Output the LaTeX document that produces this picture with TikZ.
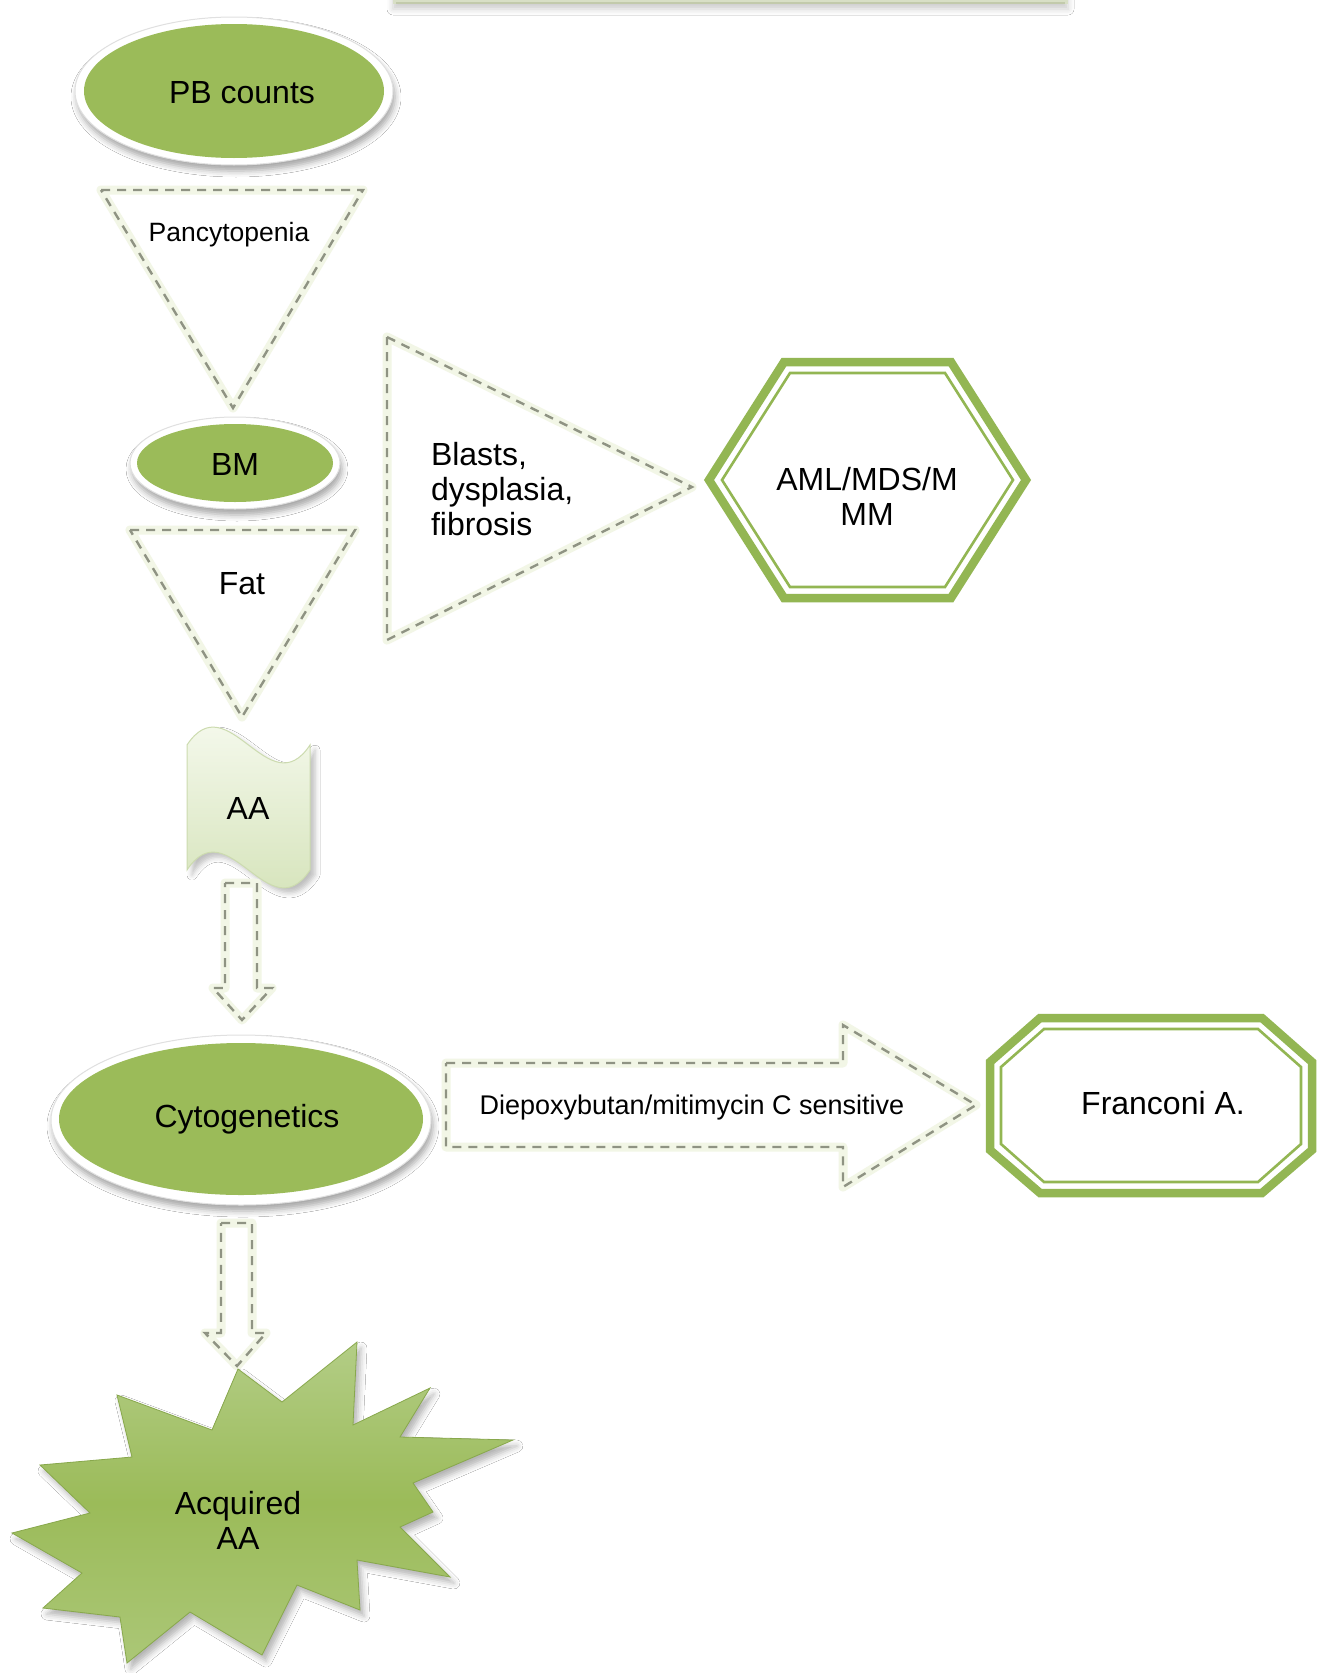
\documentclass[tikz,border=0pt]{standalone}
\usepackage{fontspec}
\setmainfont{Liberation Sans}
\usetikzlibrary{shapes.geometric,shadows.blur}

\definecolor{leaf}{HTML}{9BBB59}
\definecolor{bandgreen}{HTML}{93B653}
\definecolor{dashgray}{HTML}{8F9383}
\definecolor{halogreen}{HTML}{F2F6E6}
\definecolor{docTop}{HTML}{FBFDF6}
\definecolor{docBot}{HTML}{D0E0B2}
\definecolor{docEdge}{HTML}{CCDBAF}
\definecolor{starTop}{HTML}{B3CD86}
\definecolor{starMid}{HTML}{9BBB59}
\definecolor{starBot}{HTML}{ABC777}
\definecolor{starEdge}{HTML}{88A84C}
\definecolor{barFill}{HTML}{D8DFC6}
\definecolor{barEdge}{HTML}{C2CAAB}

\begin{document}
\begin{tikzpicture}[x=1pt,y=-1pt,
  every node/.style={inner sep=0pt, outer sep=0pt},
  main/.style={font=\fontsize{32}{35}\selectfont, align=center},
  smalltext/.style={font=\fontsize{27}{30}\selectfont},
  ring/.style={ellipse, fill=white, draw=black!12, line width=1pt,
    blur shadow={shadow xshift=2pt, shadow yshift=-6pt,
      shadow blur radius=6pt, shadow opacity=35}},
  disc/.style={ellipse, fill=leaf},
  halo/.style={draw=halogreen, line width=9pt, line join=round},
  dashline/.style={draw=dashgray, line width=2.4pt,
    dash pattern=on 9pt off 7pt, line join=miter},
  band/.style={draw=bandgreen, line width=8.5pt, line join=miter},
  thinband/.style={draw=bandgreen, line width=2.6pt, line join=miter},
]
\useasboundingbox (0,0) rectangle (1317,1673);
\fill[white] (0,0) rectangle (1317,1673);

% bar running off the top edge
\fill[barFill, blur shadow={shadow xshift=0pt, shadow yshift=-5pt,
    shadow blur radius=6pt, shadow opacity=20}]
  (393,-40) rectangle (1068,4);
\draw[barEdge, line width=2pt] (396,3) -- (1065,3);

% PB counts
\node[ring, minimum width=318pt, minimum height=148pt] (pbring) at (234,91) {};
\node[disc, minimum width=300pt, minimum height=134pt] (pb) at (234,91) {};
\node[main] (pbt) at (242,93) {PB counts};

% Pancytopenia triangle
\path[halo] (101,190) -- (363,190) -- (233,408) -- cycle;
\path[dashline] (101,190) -- (363,190) -- (233,408) -- cycle;
\node[font=\fontsize{26.5}{30}\selectfont] (pan) at (229,235) {Pancytopenia};

% BM
\node[ring, minimum width=210pt, minimum height=92pt] (bmring) at (235,463) {};
\node[disc, minimum width=196pt, minimum height=78pt] (bm) at (235,463) {};
\node[main] (bmt) at (235,464) {BM};

% Fat triangle
\path[halo] (130,530) -- (355,530) -- (242,717) -- cycle;
\path[dashline] (130,530) -- (355,530) -- (242,717) -- cycle;
\node[main] (fat) at (242,584) {Fat};

% Blasts triangle
\path[halo] (387,337) -- (692,487) -- (387,640) -- cycle;
\path[dashline] (387,337) -- (692,487) -- (387,640) -- cycle;
\node[main, align=left, anchor=west] (blasts) at (431,489)
  {Blasts,\\dysplasia,\\fibrosis};

% AML/MDS/MMM hexagon
\path[band] (709,480) -- (784,362) -- (951,362) -- (1026,480)
  -- (951,598) -- (784,598) -- cycle;
\path[thinband] (722,480) -- (790,373) -- (945,373) -- (1013,480)
  -- (945,587) -- (790,587) -- cycle;
\node[main] (aml) at (867,496) {AML/MDS/M\\MM};

% AA punched tape
\shade[top color=docTop, bottom color=docBot, draw=docEdge, line width=1pt,
    blur shadow={shadow xshift=5pt, shadow yshift=-5pt,
      shadow blur radius=5pt, shadow opacity=25}]
  (187,745) .. controls (228,683) and (269,807) .. (310,745)
  -- (310,870) .. controls (269,932) and (228,808) .. (187,870) -- cycle;
\node[main] (aa) at (248,808) {AA};

% block arrow AA -> Cytogenetics
\path[halo] (225,883) -- (257,883) -- (257,988) -- (272,988) -- (242,1020)
  -- (213,988) -- (225,988) -- cycle;
\path[dashline] (225,883) -- (257,883) -- (257,988) -- (272,988) -- (242,1020)
  -- (213,988) -- (225,988) -- cycle;

% Cytogenetics
\node[ring, minimum width=380pt, minimum height=170pt] (cytoring) at (241,1120) {};
\node[disc, minimum width=364pt, minimum height=152pt] (cyto) at (241,1119) {};
\node[main] (cytot) at (247,1119) {Cytogenetics};

% block arrow Cytogenetics -> Franconi A.
\path[halo] (446,1063) -- (843,1063) -- (843,1025) -- (976,1105)
  -- (843,1187) -- (843,1147) -- (446,1147) -- cycle;
\path[dashline] (446,1063) -- (843,1063) -- (843,1025) -- (976,1105)
  -- (843,1187) -- (843,1147) -- (446,1147) -- cycle;
\node[smalltext] (dieb) at (692,1108) {Diepoxybutan/mitimycin C sensitive};

% Franconi A. octagon
\path[band] (1040,1018) -- (1262,1018) -- (1312,1062) -- (1312,1150)
  -- (1262,1193) -- (1040,1193) -- (990,1150) -- (990,1062) -- cycle;
\path[thinband] (1044,1029) -- (1258,1029) -- (1301,1067) -- (1301,1144)
  -- (1258,1182) -- (1044,1182) -- (1001,1144) -- (1001,1067) -- cycle;
\node[main] (fanc) at (1163,1103) {Franconi A.};

% block arrow Cytogenetics -> Acquired AA
\path[halo] (221,1223) -- (252,1223) -- (252,1333) -- (266,1333) -- (237,1366)
  -- (205,1333) -- (221,1333) -- cycle;
\path[dashline] (221,1223) -- (252,1223) -- (252,1333) -- (266,1333) -- (237,1366)
  -- (205,1333) -- (221,1333) -- cycle;

% Acquired AA starburst
\shade[top color=starTop, bottom color=starBot, middle color=starMid,
    draw=starEdge, line width=0.8pt, line join=miter,
    blur shadow={shadow xshift=4pt, shadow yshift=-6pt,
      shadow blur radius=6pt, shadow opacity=30}]
  (238,1369) -- (282,1402) -- (357,1342) -- (353,1425) -- (430,1388)
  -- (400,1437) -- (513,1440) -- (413,1483) -- (433,1512) -- (400,1527)
  -- (450,1577) -- (357,1560) -- (360,1610) -- (297,1585) -- (262,1655)
  -- (190,1612) -- (127,1663) -- (120,1617) -- (43,1608) -- (82,1573)
  -- (12,1533) -- (90,1513) -- (40,1465) -- (132,1457) -- (117,1395)
  -- (212,1430) -- cycle;
\node[main] (acq) at (238,1520) {Acquired\\AA};
\end{tikzpicture}
\end{document}
